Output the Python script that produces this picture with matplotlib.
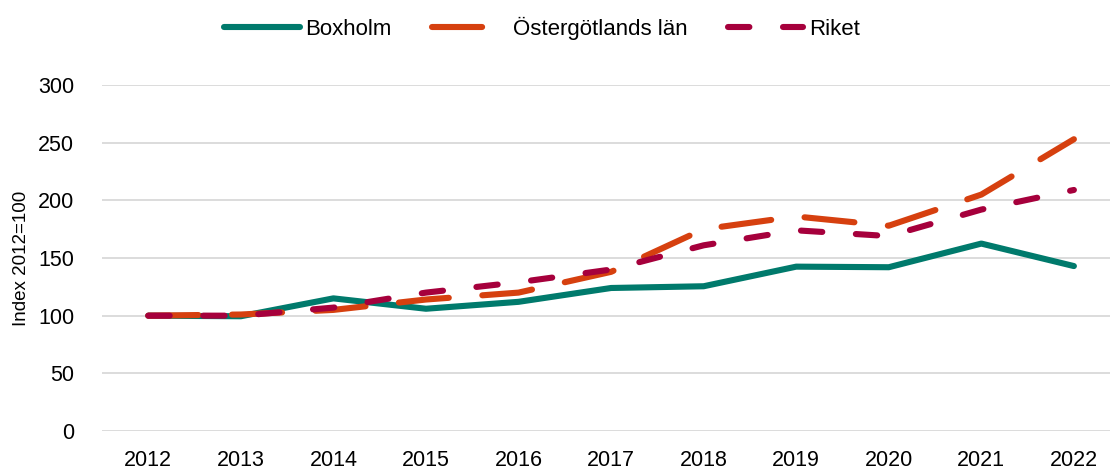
import matplotlib
matplotlib.use("Agg")
import matplotlib.pyplot as plt

plt.rcParams["font.family"] = ["Liberation Sans", "DejaVu Sans"]

years = [2012, 2013, 2014, 2015, 2016, 2017, 2018, 2019, 2020, 2021, 2022]
boxholm = [100, 99.5, 115, 106, 112, 124, 125.5, 142.5, 142, 162.5, 143]
ostergotland = [100, 101, 105, 114, 120, 138, 175, 186, 178, 205, 253]
riket = [100, 100, 107, 120, 129, 140, 161, 174, 169, 192, 209]

col_box = "#007A6C"
col_og = "#D6400F"
col_rik = "#A6003C"

fig = plt.figure(figsize=(11.1, 4.7), dpi=100)
ax = fig.add_axes([102 / 1110, 39 / 470, 1 - 102 / 1110, (431 - 85) / 470])

lw = 4.4
ax.plot(years, boxholm, color=col_box, lw=lw, solid_capstyle="round",
        solid_joinstyle="round", label="Boxholm", zorder=3)
ax.plot(years, ostergotland, color=col_og, lw=lw, linestyle=(0, (8.2, 5.5)),
        dash_capstyle="round", label="Östergötlands län", zorder=4)
ax.plot(years, riket, color=col_rik, lw=lw, linestyle=(0, (3.5, 5.5)),
        dash_capstyle="round", label="Riket", zorder=5)

ax.set_xlim(2011.5, 2022.39)
ax.set_ylim(0, 300)
ax.set_xticks(years)
ax.set_yticks(range(0, 301, 50))
ax.grid(axis="y", color="#d9d9d9", lw=1.3)
ax.set_axisbelow(True)
for s in ax.spines.values():
    s.set_visible(False)
ax.tick_params(length=0, labelsize=15.5)
ax.tick_params(axis="x", pad=14)
ax.tick_params(axis="y", pad=20)
ax.set_ylabel("Index 2012=100", fontsize=13.5, labelpad=6)

fig.legend(loc="center", bbox_to_anchor=(542 / 1110, 1 - 28 / 470), ncol=3,
           frameon=False, fontsize=16, handlelength=3.4, handletextpad=0.25,
           columnspacing=1.8)

fig.savefig("out.png", dpi=100)
